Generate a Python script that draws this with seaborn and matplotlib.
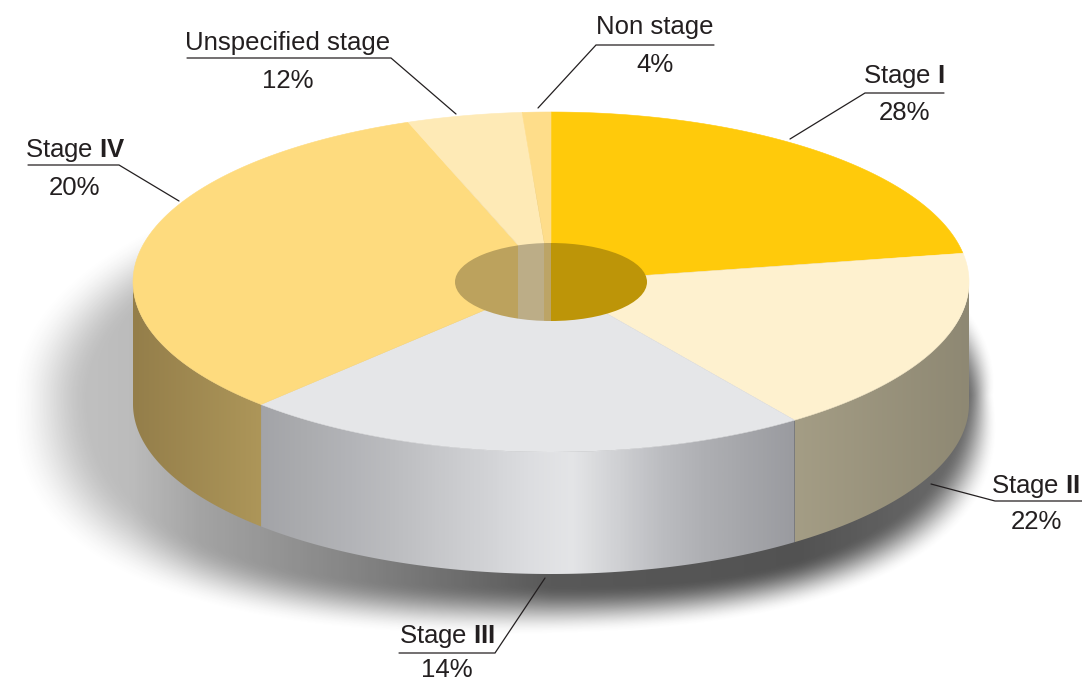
import numpy as np
import seaborn as sns
import matplotlib.pyplot as plt
from matplotlib.patches import Ellipse, Rectangle, Polygon

sns.set_theme(style="white")
plt.rcParams['font.family'] = ['Liberation Sans', 'DejaVu Sans']
plt.rcParams['mathtext.fontset'] = 'custom'
plt.rcParams['mathtext.rm'] = 'Liberation Sans'
plt.rcParams['mathtext.bf'] = 'Liberation Sans:bold'

# printed labels, and the shares the slices are actually drawn with (they differ in the source)
names = ["Stage $\\mathbf{I}$", "Stage $\\mathbf{II}$", "Stage $\\mathbf{III}$", "Stage $\\mathbf{IV}$",
         "Unspecified stage", "Non stage"]
printed = ["28%", "22%", "14%", "20%", "12%", "4%"]
drawn = [22.3, 17.8, 22.1, 32.25, 4.45, 1.1]
top_colors = ["#FFCA0B", "#FEF1CF", "#E5E6E8", "#FEDB7E", "#FEEAB6", "#FEDD8A"]
side_colors = {
    1: ["#A49D85", "#8E8873"],
    2: ["#A3A4A8", "#ABACAF", "#B3B4B8", "#BCBDC0", "#C7C8CB", "#D1D2D5", "#DCDDE0",
        "#E4E5E7", "#D0D1D4", "#BCBDC1", "#AEAFB3", "#A4A5A9", "#9A9BA0"],
    3: ["#947E4A", "#AD9659"],
}

# disc geometry in pixels
cx, cy, rx, ry = 551, 282, 418, 170
depth = 122
hole_rx, hole_ry = 96, 39

# text x, name y, percent y, then leader path
callouts = [
    (904, 76, 113, [(944, 93), (865, 93), (790, 139)]),
    (1036, 486, 522, [(1082, 501), (995, 501), (931, 484)]),
    (447, 637, 670, [(399, 653), (495, 653), (545, 578)]),
    (75, 151, 188, [(28, 165), (119, 165), (179, 201)]),
    (288, 43, 81, [(187, 58), (391, 58), (456, 114)]),
    (655, 27, 65, [(714, 45), (596, 45), (538, 108)]),
]


def rim(t, a=rx, b=ry, dy=0):
    t = np.radians(t)
    return cx + a * np.sin(t), cy - b * np.cos(t) + dy


fig = plt.figure(figsize=(10.82, 6.81), dpi=100)
ax = fig.add_axes([0, 0, 1, 1])

# soft shadow under the disc: wide blur on the left, tight on the right, fuller below
xx, yy = np.meshgrid(np.arange(1082), np.arange(681))
u, v = np.abs(xx - 515) / 465, (yy - 395) / 215
p = np.where(v > 0, 2.5, 2.0)
d = (u ** p + np.abs(v) ** p) ** (1 / p)
phi = np.degrees(np.abs(np.arctan2(v, (xx - 515) / 465)))
w = np.interp(phi, [0, 45, 90, 135, 180], [0.06, 0.16, 0.24, 0.22, 0.17])
fade = np.clip((1 + w / 2 - d) / w, 0, 1)
fade = fade * fade * (3 - 2 * fade)
ramp = np.interp(xx, [50, 130, 200, 350, 551, 800, 1000], [0.3, 0.33, 0.45, 0.6, 0.82, 0.85, 0.7])
shadow = np.zeros((681, 1082, 4))
shadow[..., :3] = 0.2
shadow[..., 3] = fade * ramp
ax.imshow(shadow, extent=(0, 1082, 681, 0), aspect='auto', zorder=1)

edges = np.cumsum([0] + drawn) * 3.6

# outer wall, only the part facing the viewer
for i, cols in side_colors.items():
    t0, t1 = max(edges[i], 90), min(edges[i + 1], 270)
    t = np.linspace(t0, t1, 120)
    x, y = rim(t)
    path = np.column_stack([np.r_[x, x[::-1]], np.r_[y, y[::-1] + depth]])
    wall = Polygon(path, closed=True, facecolor='none', edgecolor='none', zorder=2)
    ax.add_patch(wall)
    lo, hi = min(x), max(x)
    im = ax.imshow(np.linspace(0, 1, 400)[None, :], extent=(lo, hi, 681, 0), aspect='auto',
                   cmap=sns.blend_palette(cols, as_cmap=True), zorder=2)
    im.set_clip_path(wall)

# top face
for i, col in enumerate(top_colors):
    t = np.linspace(edges[i], edges[i + 1], 120)
    x, y = rim(t)
    ax.fill(np.r_[cx, x], np.r_[cy, y], facecolor=col, edgecolor=col, lw=0.4, zorder=3)

# centre hole shows the back slices darkened, as vertical strips
hole = Ellipse((cx, cy), 2 * hole_rx, 2 * hole_ry, facecolor='none', edgecolor='none', zorder=4)
ax.add_patch(hole)
for i, col in enumerate(top_colors):
    t0, t1 = edges[i], edges[i + 1]
    if i == 0:
        t1 = 90
    elif t1 > 270:
        t0 = max(t0, 270)
    else:
        continue
    x0 = rim(t0, hole_rx, hole_ry)[0]
    x1 = rim(t1, hole_rx, hole_ry)[0]
    dark = tuple(c * 0.74 for c in sns.color_palette([col])[0])
    strip = Rectangle((x0, cy - hole_ry), x1 - x0, 2 * hole_ry, facecolor=dark, edgecolor='none', zorder=4)
    ax.add_patch(strip)
    strip.set_clip_path(hole)

# callouts
ink = "#231F20"
for name, pct, (tx, ny, py, path) in zip(names, printed, callouts):
    ax.text(tx, ny, name, ha='center', va='center', fontsize=18.5, color=ink, zorder=6)
    ax.text(tx, py, pct, ha='center', va='center', fontsize=18.5, color=ink, zorder=6)
    ax.plot(*zip(*path), color=ink, lw=0.9, solid_joinstyle='miter', zorder=6)

ax.set_xlim(0, 1082)
ax.set_ylim(681, 0)
ax.axis('off')
fig.savefig("out.png", dpi=100)
